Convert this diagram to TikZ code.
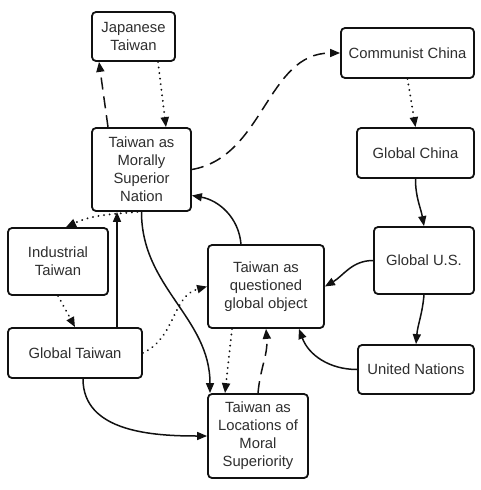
\documentclass[tikz,border=0pt]{standalone}
\usepackage{fontspec}
\setmainfont{Liberation Sans}
\usepackage{xcolor}
\usetikzlibrary{arrows.meta,calc}
\definecolor{BoxLine}{HTML}{111111}
\definecolor{LabelText}{HTML}{2E2E2E}
\definecolor{LinkLine}{HTML}{111111}
\newcommand{\topicbox}[5]{\node[topic,minimum width=#3,minimum height=#4] (#1) at (#2) {#5};}
\tikzset{
  topic/.style={draw=BoxLine,line width=1.8pt,rounded corners=4pt,fill=white,inner sep=0pt,align=center,text=LabelText,font=\fontsize{14.8}{18}\selectfont},
  link/.style={draw=LinkLine,line width=1.5pt,-{Triangle[length=10pt,width=8pt]}},
  dashlink/.style={link,dash pattern=on 12pt off 7pt},
  dotlink/.style={link,line width=2pt,line cap=round,dash pattern=on 0.1pt off 5.5pt}
}

\begin{document}
\begin{tikzpicture}[x=1pt,y=1pt]
  \useasboundingbox (0,0) rectangle (481,-490);
  \topicbox{jpntw}{133.5,-36.5}{83pt}{49pt}{Japanese\\Taiwan}
  \topicbox{moral}{141.5,-169.5}{99pt}{83pt}{Taiwan as\\Morally\\Superior\\Nation}
  \topicbox{commchina}{407.5,-53}{133pt}{50pt}{Communist China}
  \topicbox{globchina}{415.5,-153}{117pt}{50pt}{Global China}
  \topicbox{globus}{424,-260.5}{100pt}{67pt}{Global U.S.}
  \topicbox{questioned}{266,-286.5}{116pt}{83pt}{Taiwan as\\questioned\\global object}
  \topicbox{un}{416,-369.5}{116pt}{49pt}{United Nations}
  \topicbox{locations}{258,-436}{100pt}{84pt}{Taiwan as\\Locations of\\Moral\\Superiority}
  \topicbox{indtw}{58,-261.5}{100pt}{67pt}{Industrial\\Taiwan}
  \topicbox{globtw}{75,-353}{134pt}{50pt}{Global Taiwan}

  \draw[dashlink] ([xshift=-33.5pt]moral.north) -- ([xshift=-34.5pt]jpntw.south);
  \draw[dotlink] ([xshift=24.5pt]jpntw.south) -- ([xshift=24.5pt]moral.north);
  \draw[dashlink] (moral.east) to[out=10,in=180] (commchina.west);
  \draw[dotlink] (commchina.south) -- (globchina.north);
  \draw[link] (globchina.south) to[out=-90,in=100] (globus.north);
  \draw[link] (globus.west) to[out=180,in=30] (questioned.east);
  \draw[link] (globus.south) to[out=-95,in=85] (un.north);
  \draw[link] (un.west) to[out=180,in=-70] ([xshift=33pt]questioned.south);
  \draw[link] ([xshift=-25pt]questioned.north) to[out=95,in=-10] ([yshift=-26pt]moral.east);
  \draw[link] (moral.south) to[out=-90,in=90] ([xshift=-48pt]locations.north);
  \draw[dotlink] ([xshift=-34pt]questioned.south) -- ([xshift=-33pt]locations.north);
  \draw[dashlink] (locations.north) to[out=85,in=-85] (questioned.south);
  \draw[link] ([xshift=42pt]globtw.north) -- ([xshift=-24.5pt]moral.south);
  \draw[dotlink] ([xshift=-4pt]moral.south) to[out=185,in=25] ([xshift=8pt]indtw.north);
  \draw[dotlink] (indtw.south) -- (globtw.north);
  \draw[dotlink] (globtw.east) to[out=25,in=195] (questioned.west);
  \draw[link] ([xshift=8pt]globtw.south) to[out=-90,in=180] (locations.west);
\end{tikzpicture}
\end{document}
